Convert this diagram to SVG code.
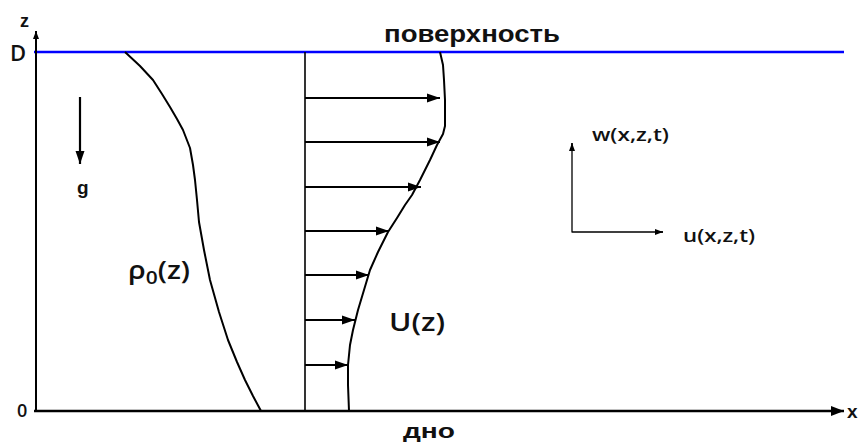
<svg xmlns="http://www.w3.org/2000/svg" width="859" height="443" viewBox="0 0 859 443">
<style>
.ar{font-family:"Liberation Sans",Arial,sans-serif;font-weight:bold;fill:#111}
.cb{font-family:"Open Sans","Noto Sans",sans-serif;font-weight:600;fill:#111}
.ln{stroke:#000;fill:none;stroke-linejoin:round;stroke-linecap:butt}
</style>
<defs>
<marker id="ah" markerUnits="userSpaceOnUse" markerWidth="14" markerHeight="11" refX="13" refY="5.5" orient="auto"><path d="M0,1 L13,5.5 L0,10 Z" fill="#000"/></marker>
<marker id="ahBig" markerUnits="userSpaceOnUse" markerWidth="14" markerHeight="12" refX="13" refY="6" orient="auto"><path d="M0,1 L13,6 L0,11 Z" fill="#000"/></marker>
<marker id="ahSm" markerUnits="userSpaceOnUse" markerWidth="9" markerHeight="8" refX="8" refY="4" orient="auto"><path d="M0,1 L8,4 L0,7 Z" fill="#000"/></marker>
</defs>
<rect width="859" height="443" fill="#fff"/>

<g id="surface">
<line x1="34" y1="52" x2="844" y2="52" stroke="#0000ff" stroke-width="2.5"/>
<text class="ar" x="384" y="42" font-size="23" textLength="176" lengthAdjust="spacingAndGlyphs">поверхность</text>
</g>

<g id="bottom">
<text class="ar" x="403" y="438" font-size="21" textLength="52" lengthAdjust="spacingAndGlyphs">дно</text>
</g>

<g id="labels-axes">
<text class="ar" x="20" y="27" font-size="18">z</text>
<text class="cb" x="10" y="61" font-size="22" font-weight="400">D</text>
<text class="cb" x="17" y="417" font-size="18" font-weight="400">0</text>
<text class="ar" x="847" y="418" font-size="19">x</text>
<text class="ar" x="77" y="194" font-size="19">g</text>
</g>

<g id="rho-profile">
<path class="ln" stroke-width="2" d="M125,52 L140,66 L153,80 L162,94 L170,107 L177,119 L183,130 L190,148 L193,165 L195,180 L197,200 L199,222 L204,250 L210,280 L219,312 L228,340 L237,362 L245,380 L253,396 L261,411"/>
<text class="cb" x="128" y="279" font-size="25" textLength="62" lengthAdjust="spacingAndGlyphs">ρ<tspan font-size="18" dy="5">0</tspan><tspan dy="-5">(z)</tspan></text>
</g>

<g id="u-profile">
<line class="ln" x1="305" y1="52" x2="305" y2="411" stroke-width="1.6"/>
<path class="ln" stroke-width="2" d="M440,52 L443,65 L444,80 L445,100 L445,126 L443,134 L437,145 L430,160 L420,180 L412,195 L405,205 L397,218 L388,232 L378,252 L370,270 L364,290 L358,310 L353,330 L350,345 L348,365 L348,385 L349,411"/>
<text class="cb" x="389" y="331" font-size="25" textLength="56" lengthAdjust="spacingAndGlyphs">U(z)</text>
</g>

<g id="velocity-components">
<text class="cb" x="592" y="141" font-size="18" textLength="77" lengthAdjust="spacingAndGlyphs">w(x,z,t)</text>
<text class="cb" x="683" y="242" font-size="18" textLength="72" lengthAdjust="spacingAndGlyphs">u(x,z,t)</text>
</g>

<g id="connectors">
<line class="ln" x1="36" y1="411" x2="36" y2="31" stroke-width="2" marker-end="url(#ahSm)"/>
<line class="ln" x1="34" y1="411" x2="844" y2="411" stroke-width="2.5" marker-end="url(#ahBig)"/>
<line class="ln" x1="80" y1="97" x2="80" y2="164" stroke-width="2.2" marker-end="url(#ah)"/>
<line class="ln" x1="305" y1="98" x2="440" y2="98" stroke-width="2.2" marker-end="url(#ah)"/>
<line class="ln" x1="305" y1="142" x2="440" y2="142" stroke-width="2.2" marker-end="url(#ah)"/>
<line class="ln" x1="305" y1="187" x2="421" y2="187" stroke-width="2.2" marker-end="url(#ah)"/>
<line class="ln" x1="305" y1="231" x2="389" y2="231" stroke-width="2.2" marker-end="url(#ah)"/>
<line class="ln" x1="305" y1="275" x2="369" y2="275" stroke-width="2.2" marker-end="url(#ah)"/>
<line class="ln" x1="305" y1="320" x2="355" y2="320" stroke-width="2.2" marker-end="url(#ah)"/>
<line class="ln" x1="305" y1="365" x2="348" y2="365" stroke-width="2.2" marker-end="url(#ah)"/>
<polyline class="ln" points="572,143 572,232 663,232" stroke-width="1.3"/>
<line class="ln" x1="572" y1="150" x2="572" y2="143" stroke-width="1.3" marker-end="url(#ahSm)"/>
<line class="ln" x1="655" y1="232" x2="663" y2="232" stroke-width="1.3" marker-end="url(#ahSm)"/>
</g>
</svg>
